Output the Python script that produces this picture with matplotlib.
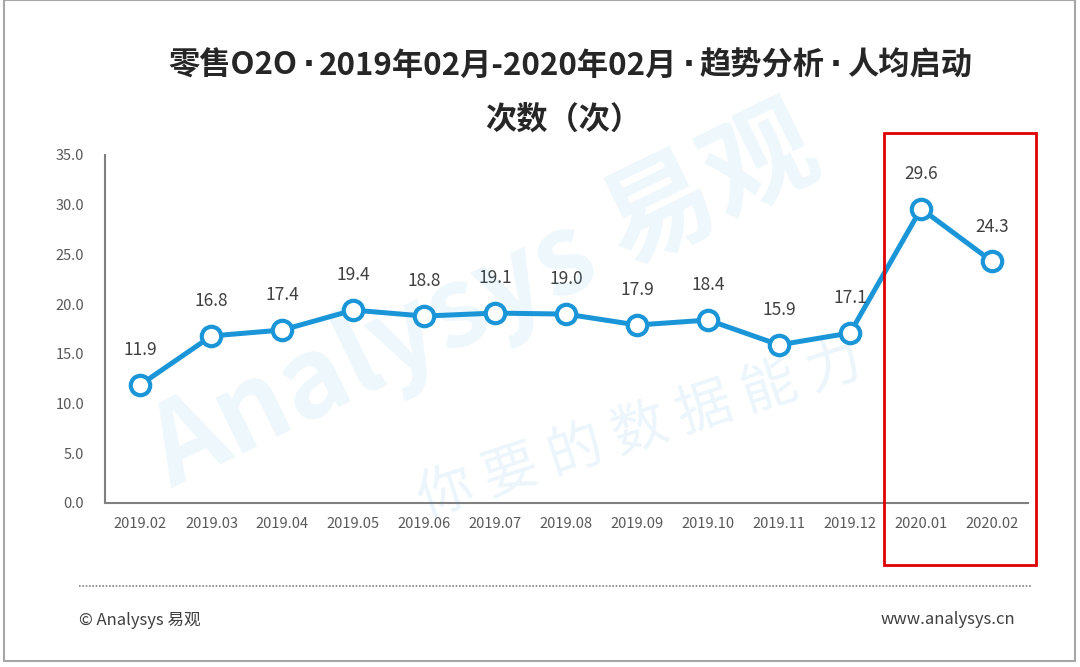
import matplotlib.pyplot as plt
from matplotlib.patches import Rectangle
from matplotlib.lines import Line2D

plt.rcParams['font.family'] = ['Noto Sans CJK SC', 'DejaVu Sans']

# data
months = ['2019.02', '2019.03', '2019.04', '2019.05', '2019.06', '2019.07', '2019.08',
          '2019.09', '2019.10', '2019.11', '2019.12', '2020.01', '2020.02']
values = [11.9, 16.8, 17.4, 19.4, 18.8, 19.1, 19.0, 17.9, 18.4, 15.9, 17.1, 29.6, 24.3]
y_ticks = [0, 5, 10, 15, 20, 25, 30, 35]
title_parts = ['零售O2O', '2019年02月-2020年02月', '趋势分析', '人均启动']
title_line2 = '次数（次）'

W, H = 1080, 667
fig = plt.figure(figsize=(W / 100, H / 100), dpi=100)
fig.patch.set_facecolor('white')

def px(x, y):
    # pixel coords (top-left origin) -> figure fraction
    return x / W, 1 - y / H

# outer frame
fig.add_artist(Rectangle(px(4, 661), (1075 - 4) / W, 661 / H, transform=fig.transFigure,
                         fill=False, edgecolor='#a6a6a6', linewidth=1.5))

# watermark
fig.text(*px(485, 300), 'Analysys 易观', fontsize=80, fontweight='bold', color='#1a96d8',
         alpha=0.08, rotation=26, ha='center', va='center', zorder=0)
fig.text(*px(640, 430), '你 要 的 数 据 能 力', fontsize=40, color='#1a96d8',
         alpha=0.09, rotation=18, ha='center', va='center', zorder=0)

ax = fig.add_axes([105 / W, 1 - 503 / H, (1027.5 - 105) / W, (503 - 155) / H])
ax.set_facecolor('none')
x = list(range(len(months)))
ax.plot(x, values, color='#1a96d8', linewidth=3.6, marker='o', markersize=14,
        markerfacecolor='white', markeredgecolor='#1a96d8', markeredgewidth=3, zorder=3)
for i, v in zip(x, values):
    ax.annotate(f'{v:.1f}', (i, v), xytext=(0, 25), textcoords='offset points',
                ha='center', va='center', fontsize=12.5, color='#404040')

ax.set_xlim(-0.5, len(months) - 0.5)
ax.set_ylim(0, 35)
ax.set_xticks(x)
ax.set_xticklabels(months)
ax.set_yticks(y_ticks)
ax.set_yticklabels([f'{t:.1f}' for t in y_ticks])
ax.tick_params(length=0, labelsize=10.5, colors='#595959', pad=10)
ax.tick_params(axis='y', pad=15)
for s in ['top', 'right']:
    ax.spines[s].set_visible(False)
for s in ['left', 'bottom']:
    ax.spines[s].set_color('#808080')
    ax.spines[s].set_linewidth(1.5)

# title line 1: pieces laid out side by side so the dots stay narrow
renderer = fig.canvas.get_renderer()
tkw = dict(fontsize=22.5, fontweight='bold', color='#262626', va='center', ha='left')
pieces = []
for k, part in enumerate(title_parts):
    if k:
        pieces.append(fig.text(0, 0, '·', family='DejaVu Sans', **tkw))
    pieces.append(fig.text(0, 0, part, **tkw))
gap = 5
widths = [p.get_window_extent(renderer).width for p in pieces]
total = sum(widths) + gap * 2 * (len(title_parts) - 1)
cur = 570 - total / 2
for k, (p, w) in enumerate(zip(pieces, widths)):
    if k % 2 == 1:
        cur += gap
    p.set_position(px(cur, 66))
    cur += w
    if k % 2 == 1:
        cur += gap
fig.text(*px(563, 120), title_line2, ha='center', va='center', fontsize=22.5,
         fontweight='bold', color='#262626')

# highlight box
fig.add_artist(Rectangle(px(884, 565), (1036 - 884) / W, (565 - 133) / H,
                         transform=fig.transFigure, fill=False,
                         edgecolor='#e00000', linewidth=2))

# footer
fig.add_artist(Line2D([79 / W, 1031 / W], [1 - 586 / H] * 2, transform=fig.transFigure,
                      color='#808080', linewidth=1.2, linestyle=(0, (1, 1))))
fig.text(*px(79, 620), '© Analysys 易观', ha='left', va='center', fontsize=12, color='#404040')
fig.text(*px(1015, 620), 'www.analysys.cn', ha='right', va='center', fontsize=12, color='#404040')

fig.savefig('out.png', dpi=100, facecolor='white')
